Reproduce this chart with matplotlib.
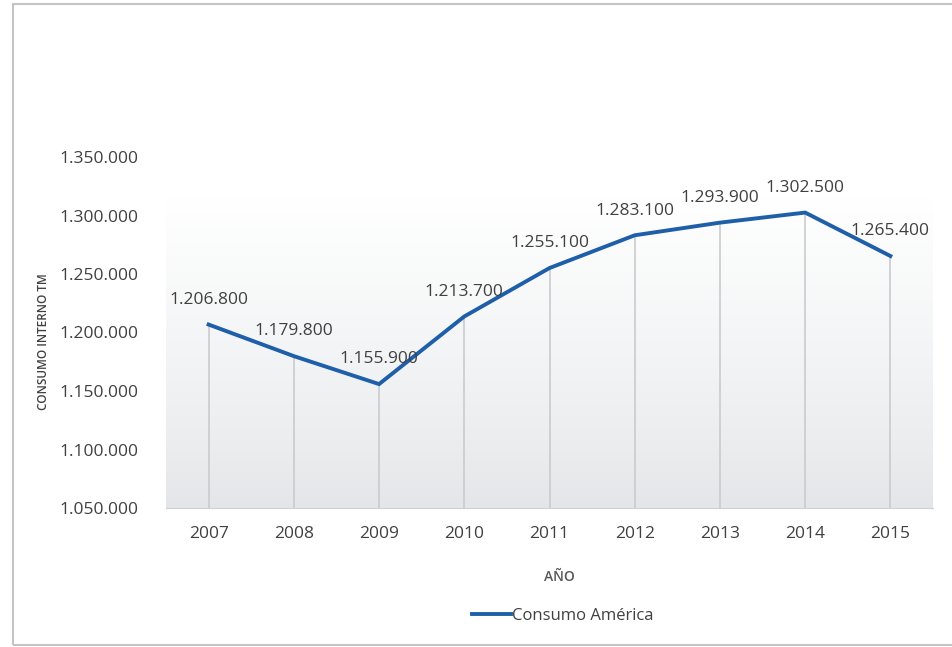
import numpy as np
import matplotlib
matplotlib.use("Agg")
import matplotlib.pyplot as plt
from matplotlib.patches import Rectangle
from matplotlib.ticker import FuncFormatter

# ================= DATA =================
years = [2007, 2008, 2009, 2010, 2011, 2012, 2013, 2014, 2015]
consumo = [1206800, 1179800, 1155900, 1213700, 1255100, 1283100, 1293900, 1302500, 1265400]
y_ticks = [1050000, 1100000, 1150000, 1200000, 1250000, 1300000, 1350000]
series_name = "Consumo América"
x_title = "AÑO"
y_title = "CONSUMO INTERNO TM"

TEXT = "#404040"
BLUE = "#1f5fa9"

plt.rcParams['font.family'] = ['Open Sans', 'DejaVu Sans']


def miles(v, pos=None):
    return f"{int(round(v)):,}".replace(",", ".")


fig = plt.figure(figsize=(9.52, 6.47), dpi=100)
fig.patches.append(Rectangle((13 / 952, 2 / 647), 1.0, 641 / 647, transform=fig.transFigure,
                             fill=False, edgecolor="#c4c4c4", linewidth=1.5))

ax = fig.add_axes([166 / 952, 1 - 508 / 647, (933 - 166) / 952, (508 - 157) / 647])
x = np.arange(len(years))
ax.set_xlim(-0.5, len(years) - 0.5)
ax.set_ylim(y_ticks[0], y_ticks[-1])

# gradient background of the plot area
grad = np.linspace(1.0, 0.0, 256).reshape(-1, 1)
top_col = np.array([1.0, 1.0, 1.0])
bot_col = np.array([0.89, 0.90, 0.91])
img = bot_col + (top_col - bot_col) * grad[..., None] ** 0.8
img = img.reshape(256, 1, 3)
ax.imshow(img, extent=(-0.5, len(years) - 0.5, y_ticks[0], 1315000), aspect="auto",
          origin="upper", zorder=0)

# drop lines
ax.vlines(x, y_ticks[0], consumo, colors="#c9cbce", linewidth=1.2, zorder=1)

ax.plot(x, consumo, color=BLUE, linewidth=2.8, solid_joinstyle="miter", zorder=3,
        label=series_name)

for xi, v in zip(x, consumo):
    ax.annotate(miles(v), (xi, v), xytext=(0, 12), textcoords="offset points",
                ha="center", va="bottom", fontsize=12.5, color=TEXT, zorder=4)

ax.set_yticks(y_ticks)
ax.yaxis.set_major_formatter(FuncFormatter(miles))
ax.set_xticks(x)
ax.set_xticklabels([str(y) for y in years])
ax.tick_params(axis="both", length=0, labelsize=12.5, labelcolor=TEXT)
ax.tick_params(axis="y", pad=20)
ax.tick_params(axis="x", pad=13)

for s in ["top", "right", "left"]:
    ax.spines[s].set_visible(False)
ax.spines["bottom"].set_color("#d0d0d0")

fig.text(44 / 952, 1 - 342 / 647, y_title, rotation=90, ha="center", va="center",
         fontsize=8.5, color=TEXT, fontweight="semibold")
fig.text(559 / 952, 1 - 577 / 647, x_title, ha="center", va="center",
         fontsize=10, color="#595959", fontweight="semibold")

fig.legend(loc="center", bbox_to_anchor=(563 / 952, 1 - 616 / 647), frameon=False,
           fontsize=12, labelcolor=TEXT, handlelength=2.3, handletextpad=0.1)

fig.savefig("out.png", dpi=100)
